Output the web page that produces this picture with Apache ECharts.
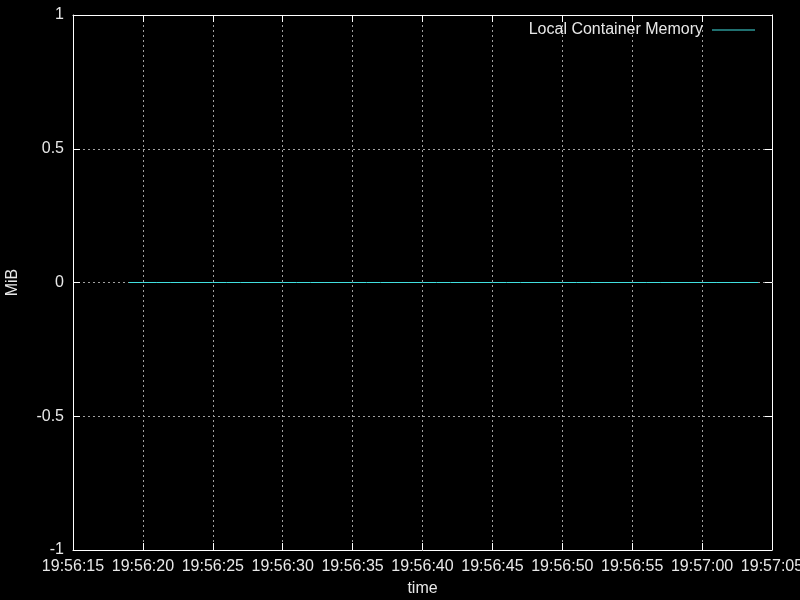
<!DOCTYPE html>
<html>
<head>
<meta charset="utf-8">
<script src="https://cdn.jsdelivr.net/npm/echarts@6/dist/echarts.min.js"></script>
<style>
  html, body { margin: 0; padding: 0; background: #000; }
  #chart { width: 800px; height: 600px; }
</style>
</head>
<body>
<div id="chart"></div>
<script>
// samples, one per second, all at 0 MiB
const times = [
  '19:56:19', '19:56:20', '19:56:21', '19:56:22', '19:56:23', '19:56:24', '19:56:25', '19:56:26',
  '19:56:27', '19:56:28', '19:56:29', '19:56:30', '19:56:31', '19:56:32', '19:56:33', '19:56:34',
  '19:56:35', '19:56:36', '19:56:37', '19:56:38', '19:56:39', '19:56:40', '19:56:41', '19:56:42',
  '19:56:43', '19:56:44', '19:56:45', '19:56:46', '19:56:47', '19:56:48', '19:56:49', '19:56:50',
  '19:56:51', '19:56:52', '19:56:53', '19:56:54', '19:56:55', '19:56:56', '19:56:57', '19:56:58',
  '19:56:59', '19:57:00', '19:57:01', '19:57:02', '19:57:03', '19:57:04'
];
const memory = [
  0, 0, 0, 0, 0, 0, 0, 0, 0, 0, 0, 0, 0, 0, 0, 0,
  0, 0, 0, 0, 0, 0, 0, 0, 0, 0, 0, 0, 0, 0, 0, 0,
  0, 0, 0, 0, 0, 0, 0, 0, 0, 0, 0, 0, 0, 0
];
const xRange = ['19:56:15', '19:57:05'];
const yTicks = [-1, -0.5, 0, 0.5, 1];

const toSec = s => {
  const p = s.split(':').map(Number);
  return p[0] * 3600 + p[1] * 60 + p[2];
};
const pad = n => (n < 10 ? '0' : '') + n;
const fmtTime = v => {
  v = Math.round(v);
  return Math.floor(v / 3600) + ':' + pad(Math.floor(v / 60) % 60) + ':' + pad(v % 60);
};

const textColor = '#e8e8e8';
const font = 'Liberation Sans, Arial, sans-serif';
const gridLine = { show: true, lineStyle: { color: '#a0a0a0', type: [2, 3], width: 1 } };

const chart = echarts.init(document.getElementById('chart'));
chart.setOption({
  backgroundColor: '#000',
  animation: false,
  textStyle: { fontFamily: font },
  grid: { left: 73, right: 28, top: 15, bottom: 50, containLabel: false, outerBoundsMode: 'none' },
  legend: {
    right: 40,
    top: 17,
    align: 'right',
    icon: 'rect',
    itemWidth: 43,
    itemHeight: 1,
    itemGap: 0,
    textStyle: { color: textColor, fontSize: 16, fontFamily: font, padding: [0, 4, 0, 0] },
    data: ['Local Container Memory']
  },
  xAxis: [{
    type: 'value',
    min: toSec(xRange[0]),
    max: toSec(xRange[1]),
    interval: 5,
    name: 'time',
    nameLocation: 'middle',
    nameGap: 31,
    nameTextStyle: { color: textColor, fontSize: 16 },
    axisLine: { onZero: false, lineStyle: { color: '#fff', width: 1 } },
    axisTick: { inside: true, length: 7, lineStyle: { color: '#fff' } },
    axisLabel: { color: textColor, fontSize: 16, margin: 9, formatter: fmtTime, showMaxLabel: true, showMinLabel: true },
    splitLine: gridLine
  }, {
    type: 'value',
    position: 'top',
    min: toSec(xRange[0]),
    max: toSec(xRange[1]),
    interval: 5,
    axisLine: { onZero: false, lineStyle: { color: '#fff', width: 1 } },
    axisTick: { inside: true, length: 7, lineStyle: { color: '#fff' } },
    axisLabel: { show: false },
    splitLine: { show: false }
  }],
  yAxis: [{
    type: 'value',
    min: yTicks[0],
    max: yTicks[yTicks.length - 1],
    interval: 0.5,
    name: 'MiB',
    nameLocation: 'middle',
    nameGap: 52,
    nameTextStyle: { color: textColor, fontSize: 16 },
    axisLine: { show: true, onZero: false, lineStyle: { color: '#fff', width: 1 } },
    axisTick: { show: true, inside: true, length: 7, lineStyle: { color: '#fff' } },
    axisLabel: { color: textColor, fontSize: 16, margin: 9 },
    splitLine: gridLine
  }, {
    type: 'value',
    position: 'right',
    min: yTicks[0],
    max: yTicks[yTicks.length - 1],
    interval: 0.5,
    axisLine: { show: true, onZero: false, lineStyle: { color: '#fff', width: 1 } },
    axisTick: { show: true, inside: true, length: 7, lineStyle: { color: '#fff' } },
    axisLabel: { show: false },
    splitLine: { show: false }
  }],
  series: [{
    name: 'Local Container Memory',
    type: 'line',
    showSymbol: false,
    color: '#40e0e0',
    lineStyle: { width: 1, color: '#40e0e0' },
    data: times.map((t, i) => [toSec(t), memory[i]])
  }]
});
</script>
</body>
</html>
